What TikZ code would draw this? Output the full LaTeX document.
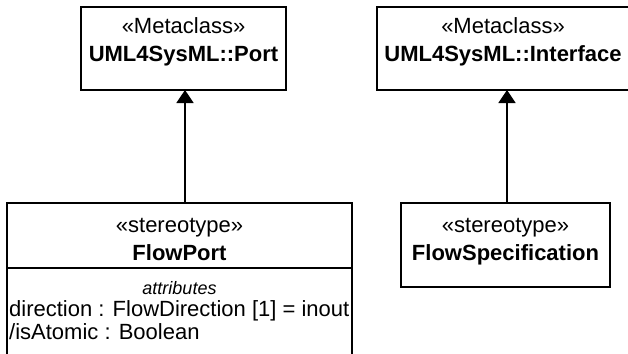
\documentclass[tikz,border=0pt]{standalone}
\usepackage{fontspec}
\setmainfont{Liberation Sans}
\usetikzlibrary{arrows.meta, positioning}

\begin{document}
\begin{tikzpicture}[x=1pt, y=-1pt,
        box/.style={rectangle, draw, line width=1.8pt, outer sep=0pt, inner sep=0pt, align=center, font=\fontsize{22}{28}\selectfont},
        >={Triangle[width=17pt, length=13pt]}
    ]
        \useasboundingbox (0,0) rectangle (628,353);
        \clip (0,0) rectangle (628,353);
        \node[box, minimum width=205pt, minimum height=83pt, text height=44pt, text depth=19pt] (port) at (183.5,48.5) {«Metaclass»\\\textbf{UML4SysML::Port}};
        \node[box, right=91pt of port, minimum width=252pt, minimum height=83pt, text height=44pt, text depth=19pt] (iface) {«Metaclass»\\\textbf{UML4SysML::Interface}};
        \node[box, below=113pt of port, xshift=-4pt, minimum width=345pt, minimum height=65pt, text height=49pt, text depth=0pt] (fp) {«stereotype»\\\textbf{FlowPort}};
        \node[box, below=0pt of fp, minimum width=345pt, minimum height=100pt] (fpattr) {};
        \node[anchor=base, inner sep=0pt, font=\fontsize{18}{22}\selectfont\itshape] (attrtitle) at ([yshift=-26pt]fpattr.north) {attributes};
        \node[anchor=base west, inner sep=0pt, align=left, font=\fontsize{22}{23}\selectfont] (attrlist) at ([xshift=2pt, yshift=-71pt]fpattr.north west) {direction : FlowDirection [1] = inout\\/isAtomic : Boolean};
        \node[box, below=113pt of iface, xshift=2.5pt, minimum width=209pt, minimum height=84pt, text height=44pt, text depth=14pt] (fs) {«stereotype»\\\textbf{FlowSpecification}};
        \draw[->, line width=1.8pt] ([xshift=5.5pt]fp.north) -- ([xshift=5.5pt]fp.north |- port.south);
        \draw[->, line width=1.8pt] ([xshift=1.5pt]fs.north) -- ([xshift=1.5pt]fs.north |- iface.south);
    \end{tikzpicture}
\end{document}
